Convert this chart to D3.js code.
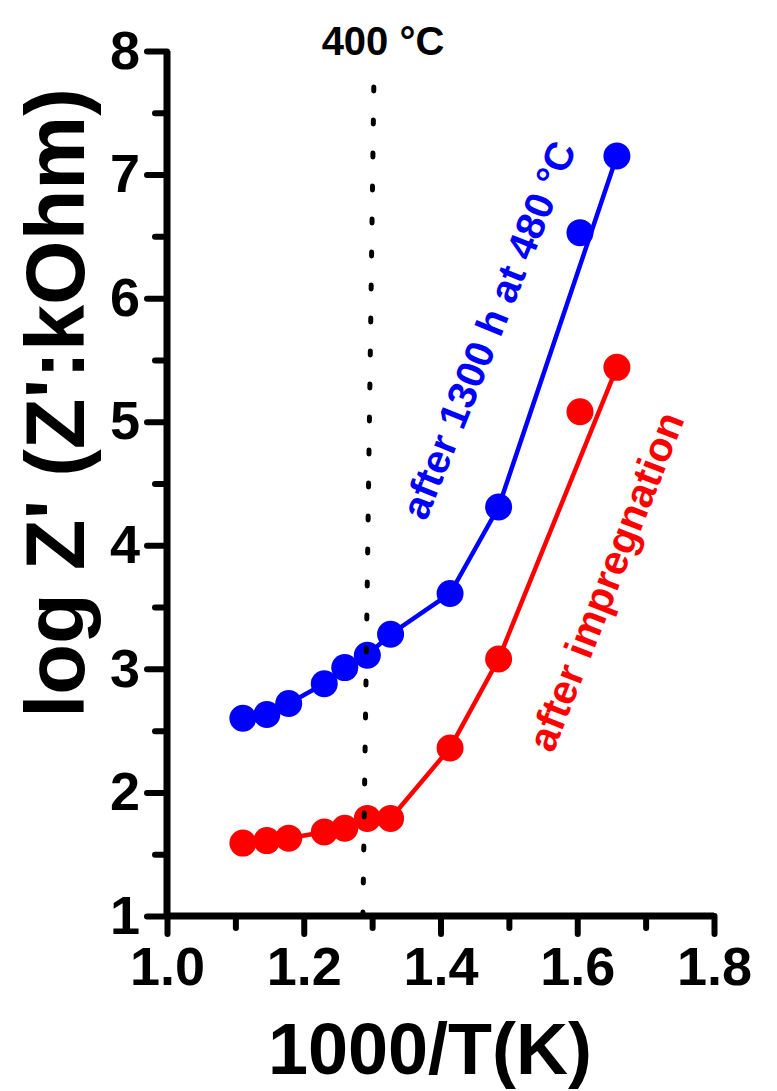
<!DOCTYPE html>
<html>
<head>
<meta charset="utf-8">
<script src="https://d3js.org/d3.v7.min.js"></script>
<style>
body { margin: 0; background: #fff; }
text { font-family: "Liberation Sans", Arial, sans-serif; font-weight: bold; }
</style>
</head>
<body>
<div id="chart"></div>
<script>
// 1000/T values, shared by both series
var invT = [1.111, 1.146, 1.178, 1.230, 1.260, 1.293, 1.327, 1.414, 1.485, 1.604, 1.658];
// log Z' values
var logAged = [2.60, 2.63, 2.72, 2.88, 3.01, 3.11, 3.28, 3.61, 4.31, 6.53, 7.15];
var logImpreg = [1.59, 1.61, 1.63, 1.68, 1.71, 1.79, 1.79, 2.36, 3.08, 5.08, 5.44];
// the connecting lines skip the 1.604 point
var lineIdx = [0, 1, 2, 3, 4, 5, 6, 7, 8, 10];

var xTicks = [1.0, 1.2, 1.4, 1.6, 1.8],
    xMinor = [1.1, 1.3, 1.5, 1.7];
var yTicks = [1, 2, 3, 4, 5, 6, 7, 8],
    yMinor = [1.5, 2.5, 3.5, 4.5, 5.5, 6.5, 7.5];

// 400 °C marker line (slightly slanted in the original)
var markX = [1.2865, 1.3026],
    markY = [1, 7.77];

function drawChart(){

    var width = 777,
        height = 1091;

    var svg = d3.select('#chart')
        .append('svg')
        .attr('width', width)
        .attr('height', height);

    var x = d3.scaleLinear().domain([1.0, 1.8]).range([167, 714]);
    var y = d3.scaleLinear().domain([1, 8]).range([916, 51]);

    //minor ticks
    var yMin = svg.append('g')
        .attr('transform', 'translate(' + x(1.0) + ',0)')
        .call(d3.axisLeft(y).tickValues(yMinor).tickSize(12).tickFormat(''));
    var xMin = svg.append('g')
        .attr('transform', 'translate(0,' + y(1) + ')')
        .call(d3.axisBottom(x).tickValues(xMinor).tickSize(12).tickFormat(''));

    //major ticks with labels
    var yAx = svg.append('g')
        .attr('transform', 'translate(' + x(1.0) + ',0)')
        .call(d3.axisLeft(y).tickValues(yTicks).tickSize(20).tickPadding(7).tickFormat(d3.format('d')));
    var xAx = svg.append('g')
        .attr('transform', 'translate(0,' + y(1) + ')')
        .call(d3.axisBottom(x).tickValues(xTicks).tickSize(18).tickPadding(13).tickFormat(d3.format('.1f')));

    [yMin, xMin, yAx, xAx].forEach(function(g){
        g.select('.domain').remove();
        g.selectAll('line')
            .attr('stroke', '#000')
            .attr('stroke-width', 6)
            .attr('stroke-linecap', 'round');
        g.selectAll('text')
            .attr('fill', '#000')
            .style('font-size', '54px');
    });

    //axis lines
    svg.append('path')
        .attr('d', 'M' + x(1.0) + ',' + y(8) + 'V' + y(1) + 'H' + x(1.8))
        .attr('fill', 'none')
        .attr('stroke', '#000')
        .attr('stroke-width', 7)
        .attr('stroke-linejoin', 'round');

    //series
    var series = [
        {vals: logAged, color: '#0000ff'},
        {vals: logImpreg, color: '#ff0000'}
    ];

    var line = d3.line()
        .x(function(i){ return x(invT[i]); });

    series.forEach(function(s){
        svg.append('path')
            .attr('d', line.y(function(i){ return y(s.vals[i]); })(lineIdx))
            .attr('fill', 'none')
            .attr('stroke', s.color)
            .attr('stroke-width', 4.5);

        svg.append('g').selectAll('circle')
            .data(s.vals)
            .enter()
            .append('circle')
            .attr('cx', function(d, i){ return x(invT[i]); })
            .attr('cy', function(d){ return y(d); })
            .attr('r', 13.5)
            .attr('fill', s.color);
    });

    //dotted 400 °C line
    svg.append('line')
        .attr('x1', x(markX[0])).attr('y1', y(markY[0]))
        .attr('x2', x(markX[1])).attr('y2', y(markY[1]))
        .attr('stroke', '#000')
        .attr('stroke-width', 5)
        .attr('stroke-dasharray', '4 29')
        .attr('stroke-linecap', 'round');

    svg.append('text')
        .attr('x', 383).attr('y', 55)
        .attr('text-anchor', 'middle')
        .style('font-size', '40px')
        .text('400 °C');

    //series labels
    svg.append('text')
        .attr('transform', 'translate(426,522) rotate(-68)')
        .attr('fill', '#0000ff')
        .style('font-size', '40px')
        .text('after 1300 h at 480 °C');

    svg.append('text')
        .attr('transform', 'translate(553,754) rotate(-68.5)')
        .attr('fill', '#ff0000')
        .style('font-size', '41px')
        .text('after impregnation');

    //axis titles
    svg.append('text')
        .attr('x', 430).attr('y', 1074)
        .attr('text-anchor', 'middle')
        .style('font-size', '72px')
        .text('1000/T(K)');

    svg.append('text')
        .attr('transform', 'translate(84,403) rotate(-90)')
        .attr('text-anchor', 'middle')
        .style('font-size', '83px')
        .text("log Z' (Z':kOhm)");
}

window.onload = drawChart();
</script>
</body>
</html>
